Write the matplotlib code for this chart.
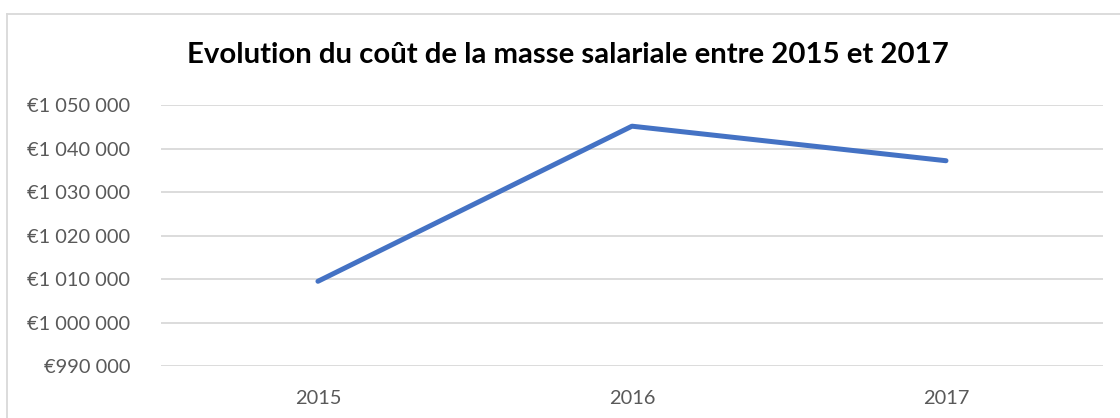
import matplotlib
matplotlib.use('Agg')
import matplotlib.pyplot as plt
from matplotlib.ticker import FuncFormatter, MultipleLocator
from matplotlib.lines import Line2D

annees = ['2015', '2016', '2017']
masse_salariale = [1009500, 1045200, 1037250]

plt.rcParams['font.family'] = ['Lato', 'DejaVu Sans']

fig = plt.figure(figsize=(11.2, 4.18), dpi=100)
ax = fig.add_axes([0.1437, 0.1244, 0.9848 - 0.1437, 0.748 - 0.1244])

x = list(range(len(annees)))
ax.plot(x, masse_salariale, color='#4472C4', linewidth=3.6, solid_capstyle='round', solid_joinstyle='round')

ax.set_xlim(-0.5, len(annees) - 0.5)
ax.set_ylim(990000, 1050000)
ax.yaxis.set_major_locator(MultipleLocator(10000))

def euro(v, pos):
    return '€' + f'{int(v):,}'.replace(',', ' ')

ax.yaxis.set_major_formatter(FuncFormatter(euro))
ax.set_xticks(x)
ax.set_xticklabels(annees)

ax.grid(axis='y', color='#D9D9D9', linewidth=1.3)
ax.set_axisbelow(True)
for s in ax.spines.values():
    s.set_visible(False)
ax.tick_params(axis='both', length=0, labelsize=14.4, colors='#595959')
ax.tick_params(axis='y', pad=22)
ax.tick_params(axis='x', pad=17)

fig.text(0.507, 0.868, 'Evolution du coût de la masse salariale entre 2015 et 2017',
         ha='center', va='center', fontsize=21.2, fontweight='bold', color='black')

# cadre du graphique
fig.add_artist(Line2D([7 / 1120, 1], [1 - 13.5 / 418, 1 - 13.5 / 418], color='#D9D9D9', linewidth=1.3))
fig.add_artist(Line2D([7 / 1120, 7 / 1120], [0, 1 - 13.5 / 418], color='#D9D9D9', linewidth=1.3))

fig.savefig('out.png', dpi=100)
